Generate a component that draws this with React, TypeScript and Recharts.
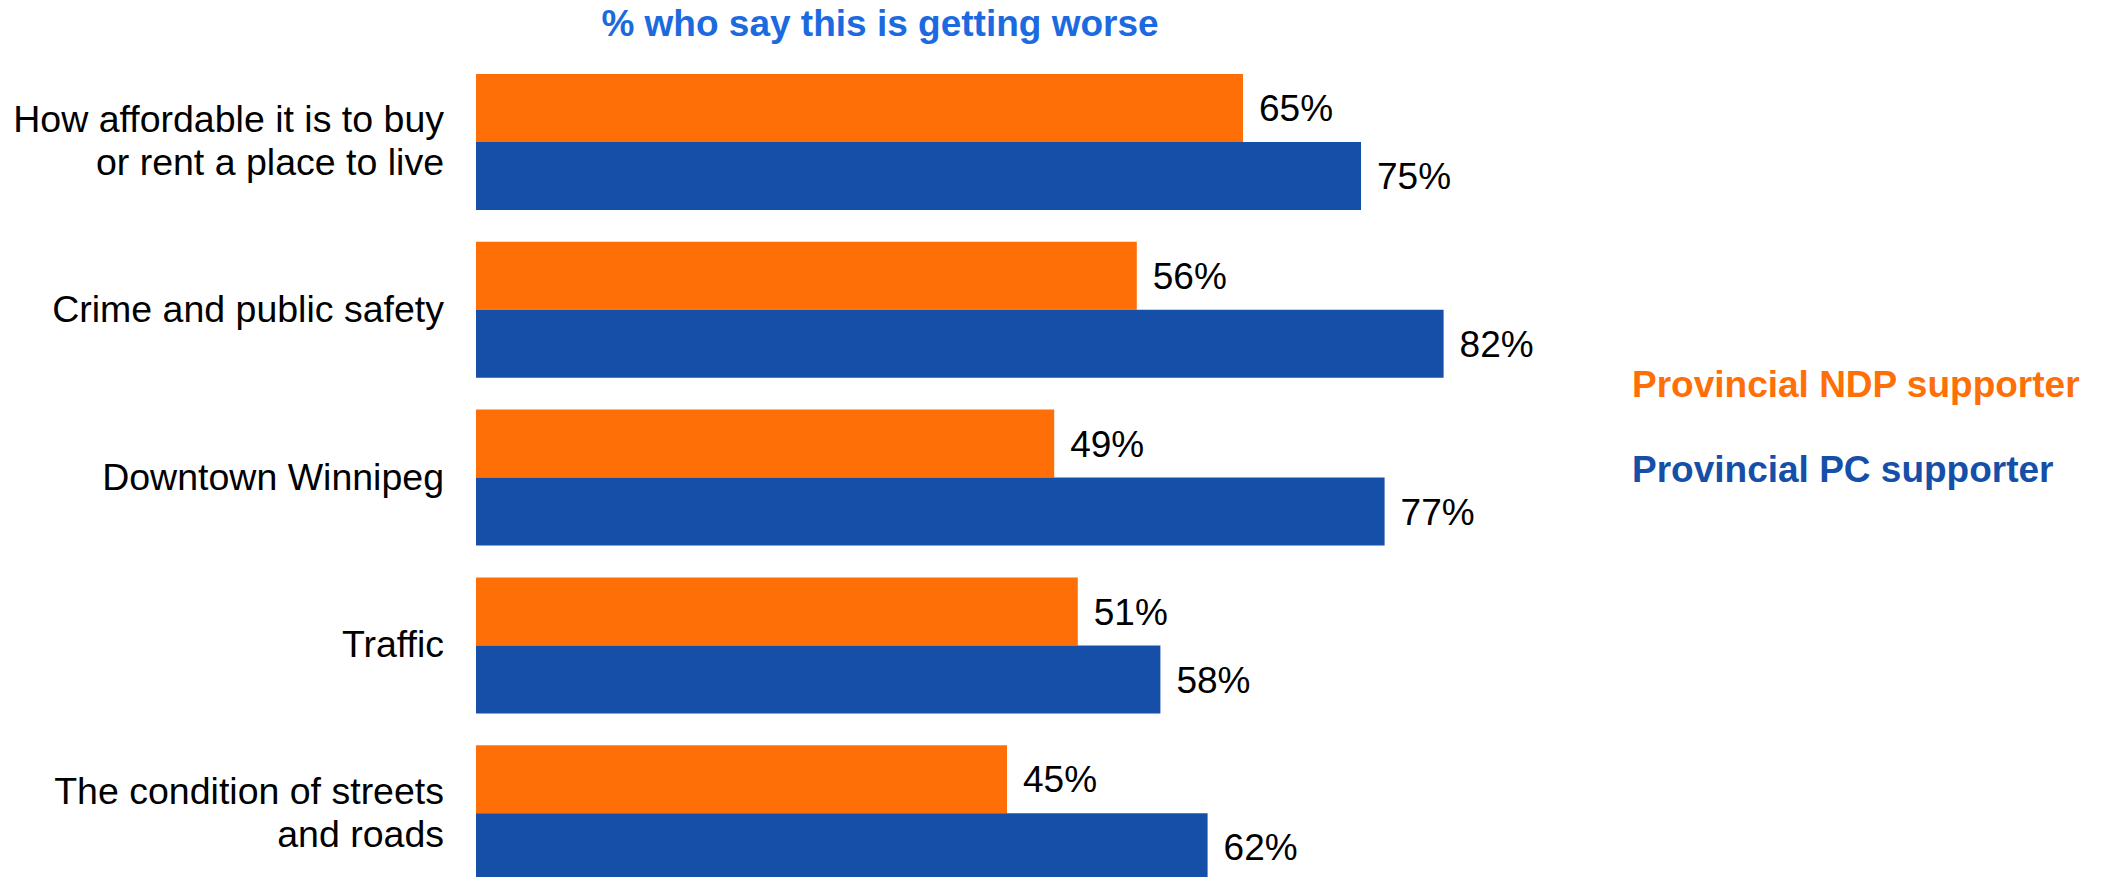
import { BarChart, Bar, XAxis, YAxis, Legend, LabelList } from 'recharts';

const categories = [
    'How affordable it is to buy\nor rent a place to live',
    'Crime and public safety',
    'Downtown Winnipeg',
    'Traffic',
    'The condition of streets\nand roads',
];
const ndpValues = [65, 56, 49, 51, 45];
const pcValues = [75, 82, 77, 58, 62];
const seriesNames = ['Provincial NDP supporter', 'Provincial PC supporter'];
const titleText = '% who say this is getting worse';

const ORANGE = '#ff6f08';
const BLUE = '#164fa8';
const FONT = '"Liberation Sans", Arial, sans-serif';

const data = categories.map((name, i) => ({ name, ndp: ndpValues[i], pc: pcValues[i] }));

// category label, right-aligned, can wrap on \n
function CategoryTick({ y, payload }: any) {
    const lines = String(payload.value).split('\n');
    const lineH = 43;
    return (
        <text x={444} y={y} textAnchor="end" fill="#000" fontSize={37.5} fontFamily={FONT}>
            {lines.map((l, i) => (
                <tspan key={i} x={444} y={y + 12 + (i - (lines.length - 1) / 2) * lineH}>{l}</tspan>
            ))}
        </text>
    );
}

function LegendBox({ payload }: any) {
    return (
        <div style={{ fontFamily: FONT, fontSize: 37, fontWeight: 'bold', lineHeight: '36px' }}>
            {(payload || []).map((p: any, i: number) => (
                <div key={i} style={{ color: p.color, marginTop: i === 0 ? 0 : 49, whiteSpace: 'nowrap' }}>{p.value}</div>
            ))}
        </div>
    );
}

export default function App() {
    return (
        <div style={{ position: 'absolute', left: 0, top: 0, width: 2108, height: 877, overflow: 'hidden', background: '#fff' }}>
            <div style={{
                position: 'absolute', left: 0, top: 6, width: 1760, textAlign: 'center',
                fontFamily: FONT, fontSize: 37, fontWeight: 'bold', lineHeight: '36px', color: '#1c6ae0',
            }}>
                {titleText}
            </div>
            <BarChart
                width={2108}
                height={917}
                data={data}
                layout="vertical"
                margin={{ top: 58, right: 452, bottom: 20, left: 0 }}
                barGap={0}
                barCategoryGap={16}
            >
                <XAxis type="number" domain={[0, 100]} hide />
                <YAxis
                    type="category"
                    dataKey="name"
                    width={476}
                    axisLine={false}
                    tickLine={false}
                    interval={0}
                    tick={<CategoryTick />}
                />
                <Legend
                    layout="vertical"
                    align="center"
                    verticalAlign="middle"
                    content={<LegendBox />}
                    wrapperStyle={{ left: 1632, top: 367, width: 476 }}
                />
                <Bar dataKey="ndp" name={seriesNames[0]} fill={ORANGE} isAnimationActive={false}>
                    <LabelList dataKey="ndp" position="right" offset={16} formatter={(v: any) => `${v}%`}
                        fill="#000" fontSize={37} fontFamily={FONT} />
                </Bar>
                <Bar dataKey="pc" name={seriesNames[1]} fill={BLUE} isAnimationActive={false}>
                    <LabelList dataKey="pc" position="right" offset={16} formatter={(v: any) => `${v}%`}
                        fill="#000" fontSize={37} fontFamily={FONT} />
                </Bar>
            </BarChart>
        </div>
    );
}
